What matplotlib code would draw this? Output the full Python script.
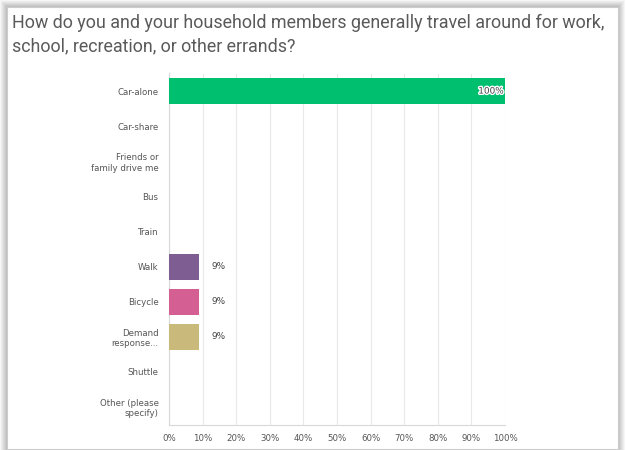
import numpy as np
import matplotlib.pyplot as plt
import matplotlib.patheffects as pe
from matplotlib.patches import Rectangle

# survey answers, top to bottom
categories = ['Car-alone', 'Car-share', 'Friends or\nfamily drive me', 'Bus', 'Train',
              'Walk', 'Bicycle', 'Demand\nresponse...', 'Shuttle', 'Other (please\nspecify)']
percents = [100, 0, 0, 0, 0, 9, 9, 9, 0, 0]
bar_colors = ['#00bf6f', '#00bf6f', '#00bf6f', '#00bf6f', '#00bf6f',
              '#7e5e92', '#d45f92', '#c9b97b', '#00bf6f', '#00bf6f']
x_ticks = [0, 10, 20, 30, 40, 50, 60, 70, 80, 90, 100]

title = 'How do you and your household members generally travel around for work,\nschool, recreation, or other errands?'

fig = plt.figure(figsize=(6.26, 4.5), dpi=100)
fig.patch.set_facecolor('white')

# soft gray shadow round the white card
W, H = 626.0, 450.0
card = (7, 7, 618, 449)  # left, top, right, bottom in pixels
for i in range(7, 0, -1):
    g = 1 - 0.035 * (8 - i)
    fig.patches.append(Rectangle(((card[0] - i) / W, 1 - (card[3] + i) / H),
                                 (card[2] - card[0] + 2 * i) / W, (card[3] - card[1] + 2 * i) / H,
                                 transform=fig.transFigure, facecolor=(g, g, g),
                                 edgecolor='none', zorder=-10))
fig.patches.append(Rectangle((card[0] / W, 1 - card[3] / H),
                             (card[2] - card[0]) / W, (card[3] - card[1]) / H,
                             transform=fig.transFigure, facecolor='white',
                             edgecolor='#cccccc', linewidth=0.8, zorder=-9))

fig.text(12 / W, 1 - 14 / H, title, ha='left', va='top', fontsize=12.9,
         family='Roboto', color='#5a5a5a', linespacing=1.38)

ax = fig.add_axes([169 / W, 1 - 424.5 / H, 336 / W, 351 / H])
ax.set_facecolor('none')
y = np.arange(len(categories))
ax.barh(y, percents, height=0.74, color=bar_colors, zorder=3)
ax.set_ylim(len(categories) - 0.5, -0.5)
ax.set_xlim(0, 100)

ax.set_yticks(y)
ax.set_yticklabels(categories, fontsize=6.2, color='#555555')
ax.set_xticks(x_ticks)
ax.set_xticklabels([f'{t}%' for t in x_ticks], fontsize=6.2, color='#555555')
ax.tick_params(length=0, pad=7.5, axis='y')
ax.tick_params(length=0, pad=6.5, axis='x')
ax.grid(axis='x', color='#e8e8e8', linewidth=0.8, zorder=0)
for s in ['top', 'right']:
    ax.spines[s].set_visible(False)
ax.spines['left'].set_color('#d8d8d8')
ax.spines['bottom'].set_color('#d8d8d8')

# value labels
for yi, v in zip(y, percents):
    if v == 0:
        continue
    if v >= 95:
        ax.text(v - 0.4, yi, f'{v}%', ha='right', va='center', fontsize=6.4, color='#444444',
                zorder=5, path_effects=[pe.withStroke(linewidth=2, foreground='white')])
    else:
        ax.text(v + 3.5, yi, f'{v}%', ha='left', va='center', fontsize=6.4, color='#444444', zorder=5)

fig.savefig('out.png', dpi=100)
